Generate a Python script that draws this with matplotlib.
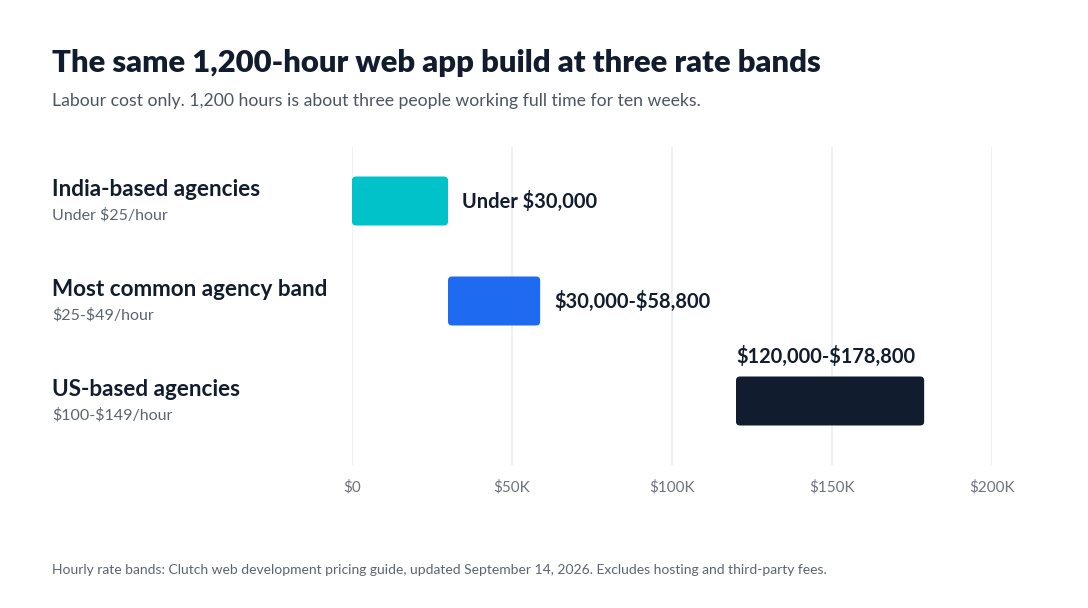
import matplotlib.pyplot as plt
from matplotlib.patches import FancyBboxPatch
from matplotlib.transforms import blended_transform_factory
from matplotlib.ticker import FuncFormatter

plt.rcParams['font.family'] = ['Lato', 'DejaVu Sans']
plt.rcParams['text.parse_math'] = False

# data
groups = ['India-based agencies', 'Most common agency band', 'US-based agencies']
rates = ['Under $25/hour', '$25-$49/hour', '$100-$149/hour']
low = [0, 30000, 120000]
high = [30000, 58800, 178800]
value_labels = ['Under $30,000', '$30,000-$58,800', '$120,000-$178,800']
colors = ['#00C2C8', '#1E6AF0', '#111C2E']
ticks = [0, 50000, 100000, 150000, 200000]

title = 'The same 1,200-hour web app build at three rate bands'
subtitle = 'Labour cost only. 1,200 hours is about three people working full time for ten weeks.'
note = ('Hourly rate bands: Clutch web development pricing guide, updated September 14, 2026. '
        'Excludes hosting and third-party fees.')

W, H = 1088, 608
fig = plt.figure(figsize=(W / 100, H / 100), dpi=100)
fig.patch.set_facecolor('white')
ax = fig.add_axes([352 / W, 1 - 465 / H, 640 / W, 318 / H])

ax.set_xlim(0, 200000)
ax.set_ylim(2.64, -0.54)

for x in ticks:
    ax.axvline(x, color='#eef0f3', lw=1.5, zorder=0)

# pixel -> data unit factors
px_x = 200000 / 640
px_y = 3.18 / 318
bar_h = 0.49
for i in range(len(groups)):
    box = FancyBboxPatch((low[i], i - bar_h / 2), high[i] - low[i], bar_h,
                         boxstyle='round,pad=0,rounding_size=%f' % (4 * px_x),
                         mutation_aspect=px_y / px_x,
                         fc=colors[i], ec='none', zorder=2)
    ax.add_patch(box)
    if high[i] > 150000:
        ax.text(low[i], i - 0.45, value_labels[i], ha='left', va='center',
                fontsize=14.4, fontweight='bold', color='#111C2E')
    else:
        ax.text(high[i] + 14 * px_x, i, value_labels[i], ha='left', va='center',
                fontsize=14.4, fontweight='bold', color='#111C2E')

trans = blended_transform_factory(fig.transFigure, ax.transData)
for i in range(len(groups)):
    ax.text(52 / W, i - 0.12, groups[i], transform=trans, ha='left', va='center',
            fontsize=16.2, fontweight='bold', color='#111C2E')
    ax.text(52 / W, i + 0.145, rates[i], transform=trans, ha='left', va='center',
            fontsize=11.5, color='#5b6472')

ax.set_xticks(ticks)
ax.xaxis.set_major_formatter(FuncFormatter(lambda v, p: '$0' if v == 0 else '$%dK' % (v / 1000)))
ax.tick_params(axis='x', length=0, pad=11, labelsize=11, labelcolor='#6b7280')
ax.set_yticks([])
for s in ax.spines.values():
    s.set_visible(False)

fig.text(52 / W, 1 - 63 / H, title, ha='left', va='center', fontsize=22.3,
         fontweight='heavy', color='#111C2E')
fig.text(52 / W, 1 - 101 / H, subtitle, ha='left', va='center', fontsize=12.7,
         color='#4a5565')
fig.text(52 / W, 1 - 570 / H, note, ha='left', va='center', fontsize=10,
         color='#5b6472')

fig.savefig('out.png', dpi=100, facecolor='white')
